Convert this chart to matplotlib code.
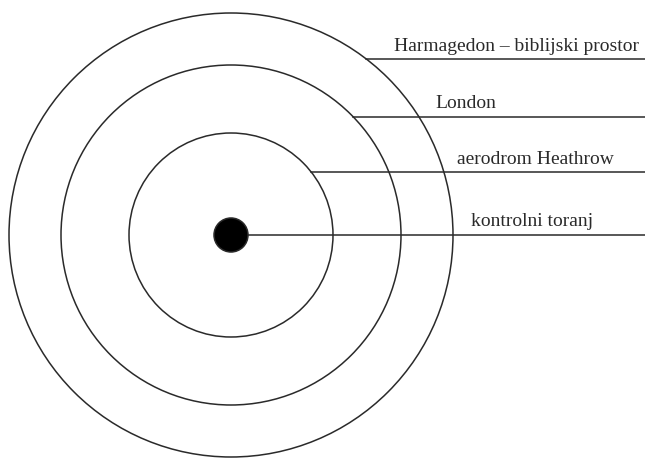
import matplotlib.pyplot as plt
from matplotlib.patches import Circle

# zones, from outermost to centre
zone_names = ["Harmagedon – biblijski prostor", "London", "aerodrom Heathrow", "kontrolni toranj"]
zone_radii = [222, 170, 102, 17]
# height of each pointer line above the centre
line_levels = [176, 118, 63, 0]
label_x = [394, 435, 457, 471]
label_gap = [8, 9, 8, 9]

centre = (231, 235)

fig = plt.figure(figsize=(6.45, 4.59), dpi=100)
ax = fig.add_axes([0, 0, 1, 1])
ax.set_xlim(0, 645)
ax.set_ylim(459, 0)
ax.set_aspect("equal")
ax.axis("off")

cx, cy = centre
for i, (naziv, r, h, lx, gap) in enumerate(zip(zone_names, zone_radii, line_levels, label_x, label_gap)):
    dot = i == len(zone_names) - 1
    ax.add_patch(Circle(centre, r, fill=dot, facecolor="black", edgecolor="#2a2a2a",
                        linewidth=1.1, zorder=3 if dot else 2))
    x0 = cx if dot else cx + (r ** 2 - h ** 2) ** 0.5
    ax.plot([x0, 645], [cy - h, cy - h], color="#2a2a2a", linewidth=1.1, zorder=1)
    ax.text(lx, cy - h - gap, naziv, fontsize=14, family="Liberation Serif",
            ha="left", va="baseline", color="#2a2a2a")

plt.savefig("out.png", dpi=100)
plt.close()
